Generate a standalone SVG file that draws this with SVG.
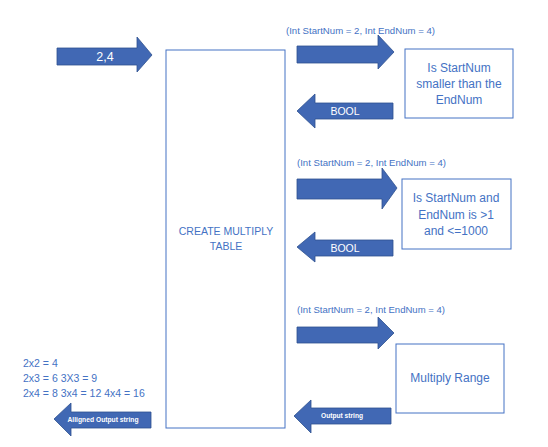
<svg xmlns="http://www.w3.org/2000/svg" width="548" height="447" viewBox="0 0 548 447">
<style>
.box{fill:#fff;stroke:#4472C4;stroke-width:1}
.arr{fill:#4168B4;stroke:#2F528F;stroke-width:0.8}
.t{font-family:"Liberation Sans",Arial,sans-serif;fill:#4472C4;text-anchor:middle;dominant-baseline:central}
.w{font-family:"Liberation Sans",Arial,sans-serif;fill:#fff;text-anchor:middle;dominant-baseline:central}
.lbl{font-family:"Liberation Sans",Arial,sans-serif;fill:#4472C4;font-size:9px;dominant-baseline:central}
.res{font-family:"Liberation Sans",Arial,sans-serif;fill:#4472C4;font-size:10.5px;dominant-baseline:central}
</style>
<rect width="548" height="447" fill="#fff"/>
<g id="main">
<rect class="box" x="166" y="50" width="119" height="378"/>
<text class="t" x="226" y="231" font-size="10.5">CREATE MULTIPLY</text>
<text class="t" x="226" y="246" font-size="10.5">TABLE</text>
</g>
<g id="check1">
<rect class="box" x="405" y="49" width="108" height="69"/>
<text class="t" x="459" y="68" font-size="12">Is StartNum</text>
<text class="t" x="459" y="84" font-size="12">smaller than the</text>
<text class="t" x="459" y="100" font-size="12">EndNum</text>
</g>
<g id="check2">
<rect class="box" x="402" y="179" width="109" height="70"/>
<text class="t" x="456" y="198" font-size="12">Is StartNum and</text>
<text class="t" x="456" y="215" font-size="12">EndNum is &gt;1</text>
<text class="t" x="456" y="231" font-size="12">and &lt;=1000</text>
</g>
<g id="multiply">
<rect class="box" x="396" y="344" width="108" height="69"/>
<text class="t" x="450" y="378" font-size="12">Multiply Range</text>
</g>
<g id="result">
<text class="res" x="23" y="363">2x2 = 4</text>
<text class="res" x="23" y="378">2x3 = 6 3X3 = 9</text>
<text class="res" x="23" y="393">2x4 = 8 3x4 = 12 4x4 = 16</text>
</g>
<g id="connectors">
<polygon class="arr" points="57,48 137,48 137,37 152,55 137,72 137,65 57,65"/>
<text class="w" x="105" y="57" font-size="12.5">2,4</text>

<text class="lbl" x="286" y="31" textLength="149" lengthAdjust="spacingAndGlyphs">(Int StartNum = 2, Int EndNum = 4)</text>
<polygon class="arr" points="297,46 378,46 378,35 394,52 378,69 378,63 297,63"/>
<polygon class="arr" points="297,111 315,94 315,103 393,103 393,119 315,119 315,128"/>
<text class="w" x="345" y="111" font-size="10.5">BOOL</text>

<text class="lbl" x="297" y="163" textLength="149" lengthAdjust="spacingAndGlyphs">(Int StartNum = 2, Int EndNum = 4)</text>
<polygon class="arr" points="297,179 382,179 382,168 397,188 382,209 382,199 297,199"/>
<polygon class="arr" points="297,247 315,232 315,240 393,240 393,256 315,256 315,262"/>
<text class="w" x="345" y="248" font-size="10.5">BOOL</text>

<text class="lbl" x="297" y="310" textLength="148" lengthAdjust="spacingAndGlyphs">(Int StartNum = 2, Int EndNum = 4)</text>
<polygon class="arr" points="297,327 378,327 378,317 394,333 378,349 378,343 297,343"/>
<polygon class="arr" points="294,416 311,400 311,408 391,408 391,424 311,424 311,433"/>
<text class="w" x="342" y="415" font-size="7" font-weight="bold" textLength="42" lengthAdjust="spacingAndGlyphs">Output string</text>

<polygon class="arr" points="54,419 71,403 71,412 151,412 151,428 71,428 71,436"/>
<text class="w" x="103" y="419" font-size="7" font-weight="bold" textLength="71" lengthAdjust="spacingAndGlyphs">Alligned Output string</text>
</g>
</svg>
